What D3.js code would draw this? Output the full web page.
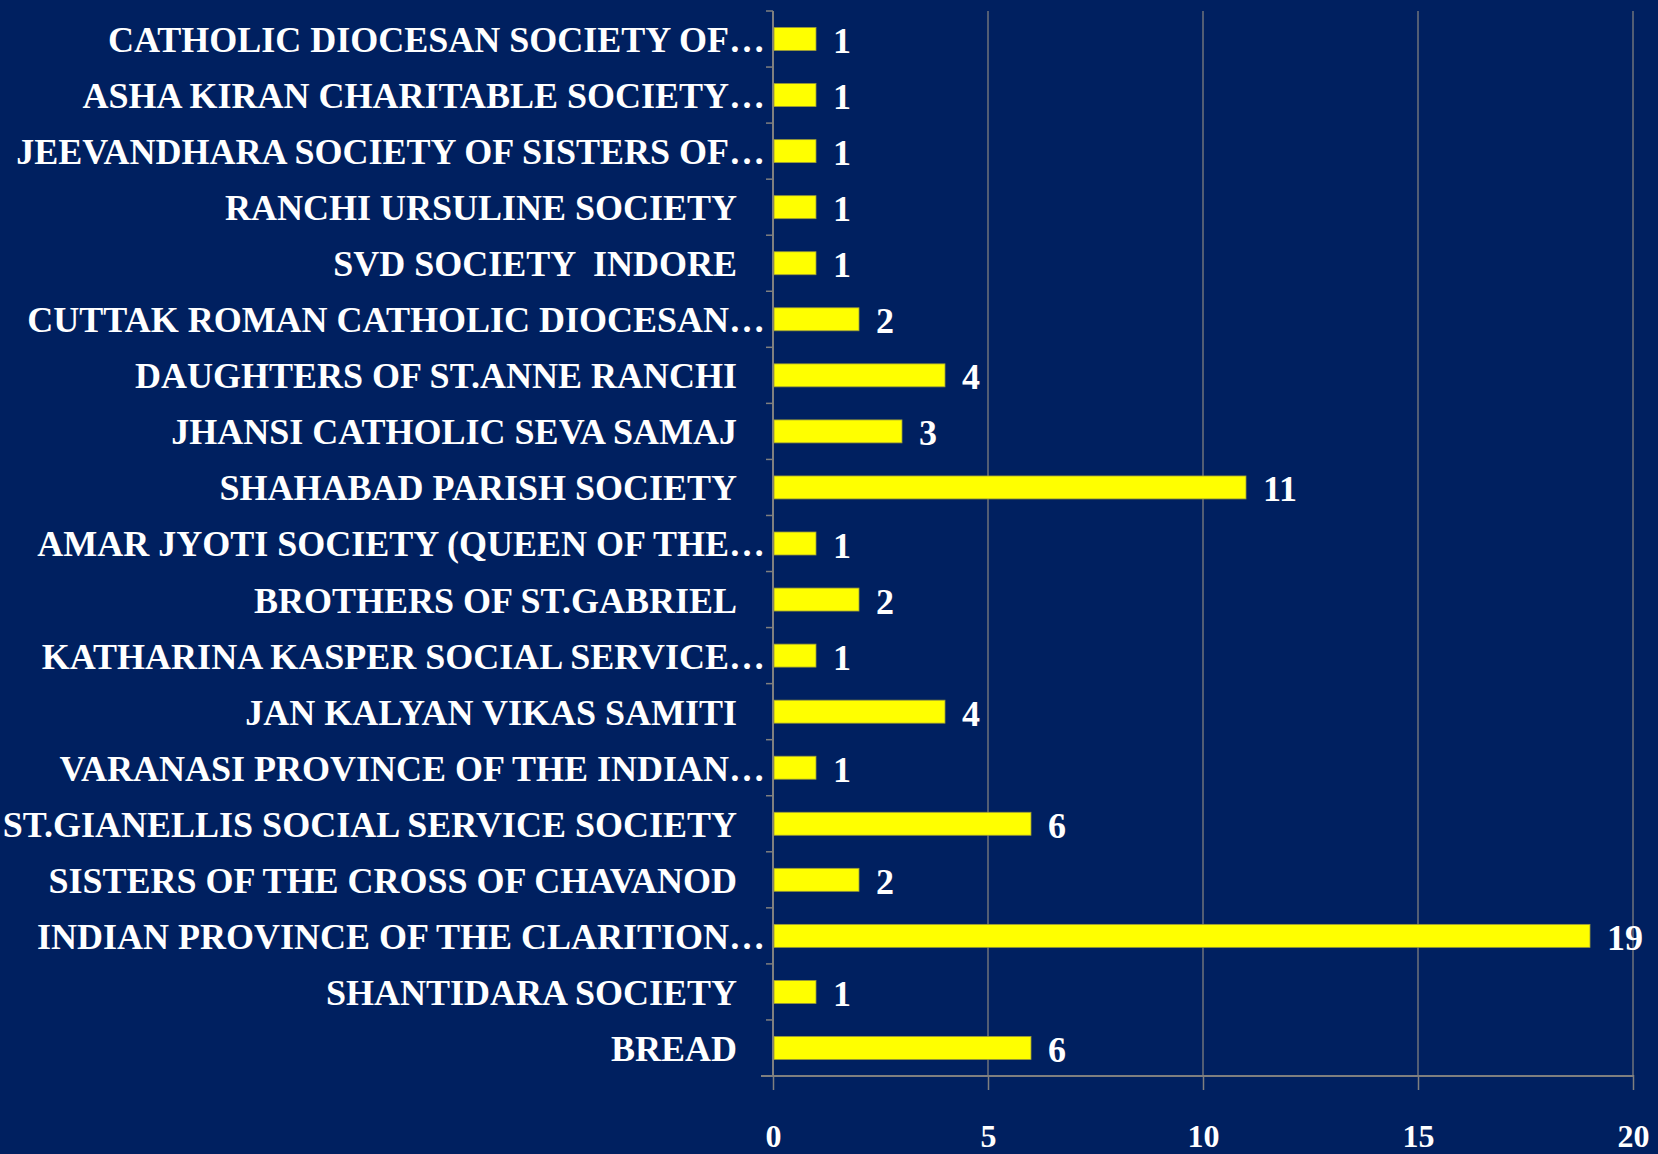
<!DOCTYPE html>
<html>
<head>
<meta charset="utf-8">
<script src="https://cdn.jsdelivr.net/npm/d3@7"></script>
<style>
  html, body { margin: 0; padding: 0; background: #002060; }
  svg { display: block; }
  text { font-family: "Liberation Serif", "DejaVu Serif", serif; font-weight: bold; fill: #ffffff; white-space: pre; }
</style>
</head>
<body>
<svg id="chart" width="1658" height="1154"></svg>
<script>
const categories = [
  "CATHOLIC DIOCESAN SOCIETY OF…",
  "ASHA KIRAN CHARITABLE SOCIETY…",
  "JEEVANDHARA SOCIETY OF SISTERS OF…",
  "RANCHI URSULINE SOCIETY ",
  "SVD SOCIETY  INDORE ",
  "CUTTAK ROMAN CATHOLIC DIOCESAN…",
  "DAUGHTERS OF ST.ANNE RANCHI ",
  "JHANSI CATHOLIC SEVA SAMAJ ",
  "SHAHABAD PARISH SOCIETY ",
  "AMAR JYOTI SOCIETY (QUEEN OF THE…",
  "BROTHERS OF ST.GABRIEL ",
  "KATHARINA KASPER SOCIAL SERVICE…",
  "JAN KALYAN VIKAS SAMITI ",
  "VARANASI PROVINCE OF THE INDIAN…",
  "ST.GIANELLIS SOCIAL SERVICE SOCIETY ",
  "SISTERS OF THE CROSS OF CHAVANOD ",
  "INDIAN PROVINCE OF THE CLARITION…",
  "SHANTIDARA SOCIETY ",
  "BREAD "
];
const values = [1, 1, 1, 1, 1, 2, 4, 3, 11, 1, 2, 1, 4, 1, 6, 2, 19, 1, 6];
const xTicks = [0, 5, 10, 15, 20];

const svg = d3.select("#chart");
const mLeft = 773, mRight = 1633, mTop = 11, mBottom = 1076;

const x = d3.scaleLinear().domain([0, 20]).range([mLeft, mRight]);
const y = d3.scaleBand().domain(categories).range([mTop, mBottom]).paddingInner(0.59).paddingOuter(0.295);

const grid = "#7f7f7f";

// vertical gridlines
svg.append("g").selectAll("line").data(xTicks.slice(1)).join("line")
  .attr("x1", d => x(d)).attr("x2", d => x(d))
  .attr("y1", mTop).attr("y2", mBottom)
  .attr("stroke", grid).attr("stroke-width", 1.3);

// bottom axis
const xAxis = d3.axisBottom(x).tickValues(xTicks).tickSize(14).tickPadding(34).tickFormat(d3.format("d"));
const gx = svg.append("g").attr("transform", `translate(0,${mBottom})`).call(xAxis);
gx.select(".domain").attr("stroke", grid).attr("stroke-width", 2).attr("d", `M${mLeft - 12},0H${mRight}`);
gx.selectAll(".tick line").attr("stroke", grid).attr("stroke-width", 1.5).attr("y1", -1);
gx.selectAll(".tick text").attr("font-size", 32).attr("fill", "#fff")
  .style("font-family", '"Liberation Serif", serif').style("font-weight", "bold");

// left axis line + category boundary ticks
svg.append("line").attr("x1", mLeft).attr("x2", mLeft).attr("y1", mTop).attr("y2", mBottom)
  .attr("stroke", grid).attr("stroke-width", 2);
const bounds = d3.range(categories.length).map(i => mTop + i * (mBottom - mTop) / categories.length);
svg.append("g").selectAll("line").data(bounds).join("line")
  .attr("x1", mLeft - 7).attr("x2", mLeft).attr("y1", d => d).attr("y2", d => d)
  .attr("stroke", grid).attr("stroke-width", 1.5);

// bars
svg.append("g").selectAll("rect").data(categories).join("rect")
  .attr("x", x(0) + 1)
  .attr("y", d => y(d))
  .attr("width", (d, i) => x(values[i]) - x(0) - 1)
  .attr("height", y.bandwidth())
  .attr("fill", "#ffff00")
  .attr("stroke", "#9a9a3a").attr("stroke-width", 0.8);

// category labels
svg.append("g").selectAll("text").data(categories).join("text")
  .attr("x", d => d.endsWith(" ") ? 737 : 765)
  .attr("y", d => y(d) + y.bandwidth() / 2)
  .attr("dy", "0.36em")
  .attr("text-anchor", "end")
  .attr("font-size", 36)
  .text(d => d.trimEnd());

// value labels
svg.append("g").selectAll("text").data(categories).join("text")
  .attr("x", (d, i) => x(values[i]) + 17)
  .attr("y", d => y(d) + y.bandwidth() / 2 + 14)
  .attr("font-size", 36)
  .text((d, i) => values[i]);
</script>
</body>
</html>
